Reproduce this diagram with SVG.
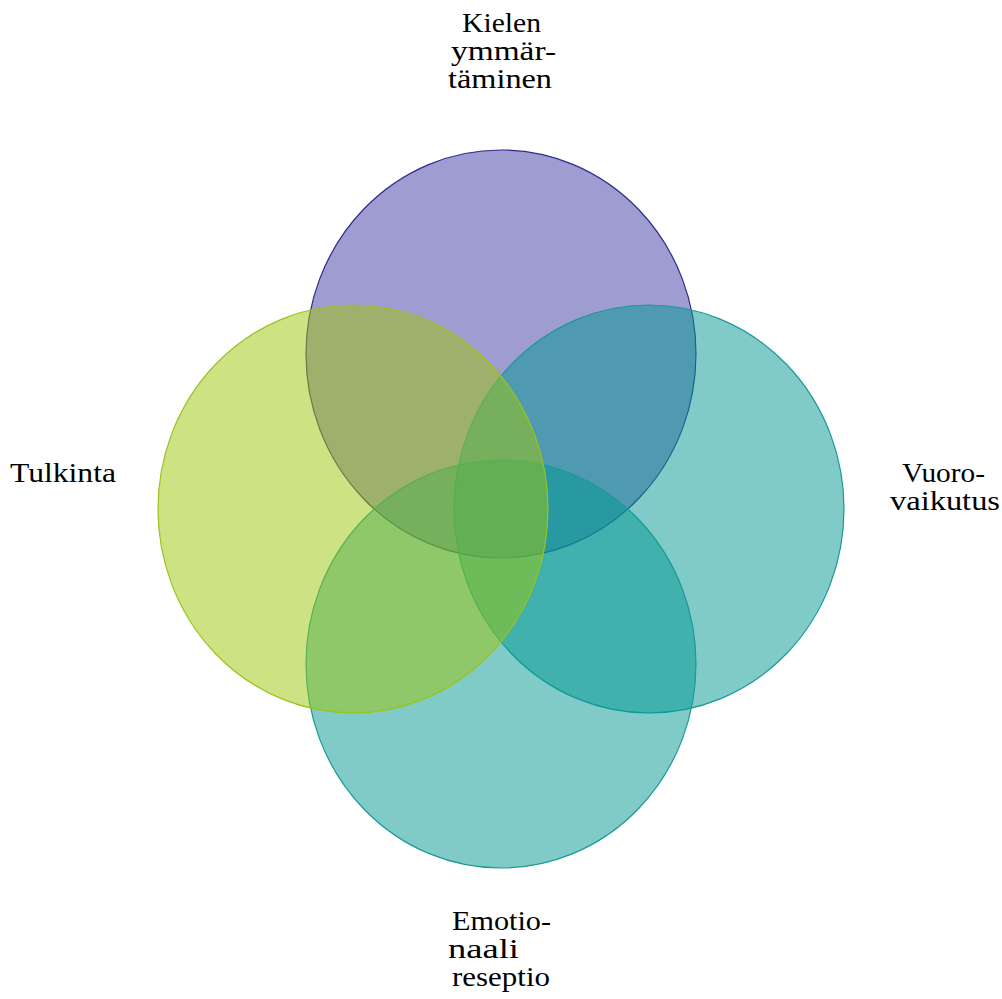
<svg xmlns="http://www.w3.org/2000/svg" width="1002" height="999" viewBox="0 0 1002 999">
  <style>
    text { font-family: "Liberation Serif", "Times New Roman", serif; font-size: 28px; fill: #000; }
    .c { stroke-width: 1.2; }
    .purple { fill: #3d39a1; fill-opacity: 0.5; stroke: #2e2c8c; }
    .teal { fill: #019791; fill-opacity: 0.5; stroke: #1a9a96; }
    .green { fill: #9bc507; fill-opacity: 0.5; stroke: #9ac31c; }
  </style>
  <rect width="1002" height="999" fill="#fff"/>

  <g id="kielen-ymmartaminen">
    <ellipse class="c purple" cx="501" cy="354" rx="195" ry="204"/>
    <text x="462" y="32" textLength="79" lengthAdjust="spacingAndGlyphs">Kielen</text>
    <text x="451" y="60" textLength="105" lengthAdjust="spacingAndGlyphs">ymmär-</text>
    <text x="448" y="88" textLength="104" lengthAdjust="spacingAndGlyphs">täminen</text>
  </g>

  <g id="vuorovaikutus">
    <ellipse class="c teal" cx="649" cy="509" rx="195" ry="204"/>
    <text x="902" y="482" textLength="83" lengthAdjust="spacingAndGlyphs">Vuoro-</text>
    <text x="890" y="510" textLength="110" lengthAdjust="spacingAndGlyphs">vaikutus</text>
  </g>

  <g id="emotionaali-reseptio">
    <ellipse class="c teal" cx="501" cy="664" rx="195" ry="204"/>
    <text x="452" y="930" textLength="99" lengthAdjust="spacingAndGlyphs">Emotio-</text>
    <text x="448" y="958" textLength="71" lengthAdjust="spacingAndGlyphs">naali</text>
    <text x="452" y="986" textLength="98" lengthAdjust="spacingAndGlyphs">reseptio</text>
  </g>

  <g id="tulkinta">
    <ellipse class="c green" cx="353" cy="509" rx="195" ry="204"/>
    <text x="10" y="482" textLength="106" lengthAdjust="spacingAndGlyphs">Tulkinta</text>
  </g>

  <g id="connectors"/>
</svg>
